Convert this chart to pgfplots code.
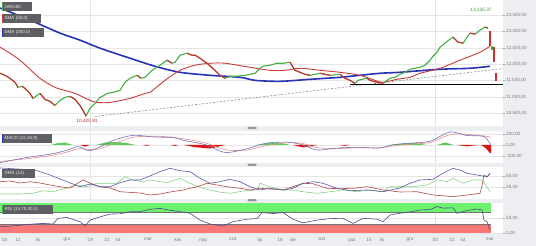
\documentclass[border=0pt]{standalone}
\usepackage{pgfplots}
\pgfplotsset{compat=1.18}
\usepackage{fontspec}
\setmainfont{Liberation Sans}
\definecolor{bgc}{HTML}{ECEEF1}
\definecolor{pgreen}{HTML}{45AE45}
\definecolor{pred}{HTML}{CC3030}
\definecolor{sma50}{HTML}{C83C3C}
\definecolor{sma200}{HTML}{2832B4}
\definecolor{macdc}{HTML}{7474B8}
\definecolor{sigc}{HTML}{E8908A}
\definecolor{hgreen}{HTML}{55D055}
\definecolor{hred}{HTML}{DD1515}
\definecolor{dmsblue}{HTML}{5A5AA8}
\definecolor{dmsgreen}{HTML}{86D486}
\definecolor{dmsred}{HTML}{B04848}
\definecolor{rsiline}{HTML}{4B4B8F}
\definecolor{rsigreen}{HTML}{6CF26C}
\definecolor{rsired}{HTML}{F87878}
\definecolor{boxc}{HTML}{5E5F62}
\definecolor{lblc}{HTML}{7A7A7A}
\pgfplotsset{panel/.style={
  scale only axis, width=503bp, xmin=0, xmax=503, anchor=north west,
  axis line style={draw=none},
  axis background/.style={fill=white},
  xtick={90,435}, xticklabels={,}, xmajorgrids, ymajorgrids,
  major grid style={draw=black!10, line width=0.4bp},
  xtick pos=bottom, ytick pos=right, yticklabel pos=right,
  tick align=outside, major tick length=2bp,
  ytick style={draw=black!35, line width=0.4bp},
  xtick style={draw=none},
  yticklabel style={font=\fontsize{4.6}{5}\selectfont, text=lblc, inner sep=1bp},
  unbounded coords=jump,
}}
\tikzset{lbox/.style={fill=boxc, text=white!92!black, font=\fontsize{4.5}{5}\selectfont, anchor=north west, inner xsep=2.5bp, inner ysep=0bp, minimum height=9bp, align=left}}
\begin{document}
\begin{tikzpicture}
\useasboundingbox (0,0) rectangle (536bp,-246bp);
\fill[bgc] (0,0) rectangle (536bp,-246bp);
% ---------------- main panel
\begin{axis}[panel, at={(0bp,0bp)}, height=125.5bp, ymin=10133, ymax=13959,
  ytick={10500,11000,11500,12000,12500,13000,13500},
  yticklabels={{10.500,00},{11.000,00},{11.500,00},{12.000,00},{12.500,00},{13.000,00},{13.500,00}}]
\addplot[black!45, dashed, dash pattern=on 2bp off 1.6bp, line width=0.6bp] coordinates {(95,10409) (503,11871)};
\addplot[black, line width=0.8bp] coordinates {(350,11385) (503,11385)};
\addplot[sma200, line width=1.6bp, smooth] coordinates {
(0,13714)(30,13347)(60,12949)(80,12735)(100,12490)(130,12184)(155,11939)(180,11755)(210,11663)(240,11602)(255,11510)(280,11480)(310,11541)(340,11602)(360,11663)(380,11725)(400,11755)(440,11847)(470,11878)(490,11939)};
\addplot[sma50, line width=0.9bp, smooth] coordinates {
(0,12520)(10,12337)(20,12123)(30,11847)(40,11572)(55,11296)(75,11112)(90,10898)(97,10837)(110,10837)(130,10959)(145,11112)(150,11143)(160,11388)(165,11510)(180,11816)(195,11970)(210,12031)(225,12031)(250,11908)(270,11816)(285,11816)(300,11878)(320,11816)(340,11755)(360,11663)(375,11510)(383,11449)(397,11541)(410,11602)(420,11725)(440,11878)(460,12123)(480,12367)(490,12551)};
\addplot[pgreen, line width=1.1bp] coordinates {
(0,11725)(5,11663)(10,11572)(15,11449)(18,11296)(22,11327)(25,11265)(30,11112)(33,10959)(37,11051)(40,11112)(45,10929)(50,10868)(55,10745)(60,10898)(65,10990)(70,11021)(75,10929)(80,10745)(83,10592)(86,10421)(90,10653)(95,10806)(100,10990)(104,11051)(107,11112)(113,11143)(120,11204)(125,11449)(130,11572)(137,11663)(141,11572)(145,11602)(150,11755)(155,11878)(160,11970)(167,12123)(172,12031)(175,12061)(180,12276)(187,12337)(192,12276)(195,12276)(200,12184)(207,12031)(215,11816)(220,11663)(225,11572)(230,11633)(235,11633)(245,11663)(255,11725)(260,11878)(263,11939)(270,11970)(277,12031)(283,12031)(290,12061)(295,11816)(300,11755)(305,11694)(310,11663)(320,11725)(330,11663)(340,11694)(345,11572)(350,11510)(355,11419)(358,11510)(362,11541)(367,11572)(370,11510)(377,11449)(383,11419)(390,11572)(395,11602)(400,11694)(405,11755)(410,11847)(415,11878)(420,11908)(425,11970)(430,12123)(433,12245)(437,12367)(440,12520)(445,12643)(450,12765)(453,12827)(456,12735)(458,12674)(463,12643)(467,12827)(470,12949)(475,12918)(480,13041)(485,13135)(488,13102)};
\addplot[pred, line width=1.1bp] coordinates {
(0,11725)(5,11663)(10,11572)(15,11449)(18,11296)(19,nan)
(22,11327)(25,11265)(30,11112)(33,10959)(34,nan)
(40,11112)(45,10929)(50,10868)(55,10745)(56,nan)
(70,11021)(75,10929)(80,10745)(83,10592)(86,10421)(87,nan)
(137,11663)(141,11572)(142,nan)
(167,12123)(172,12031)(173,nan)
(187,12337)(192,12276)(195,12276)(200,12184)(207,12031)(215,11816)(220,11663)(225,11572)(226,nan)
(290,12061)(295,11816)(300,11755)(305,11694)(310,11663)(311,nan)
(320,11725)(330,11663)(331,nan)
(340,11694)(345,11572)(350,11510)(355,11419)(356,nan)
(367,11572)(370,11510)(377,11449)(383,11419)(384,nan)
(453,12827)(456,12735)(458,12674)(463,12643)(464,nan)
(470,12949)(475,12918)(476,nan)
(485,13135)(488,13102)};
\addplot[pred, line width=1.8bp] coordinates {(490,13000)(490,12560)};
\addplot[pgreen, line width=1.8bp] coordinates {(492,12420)(492,12560)};
\addplot[pred, line width=1.8bp] coordinates {(494,12520)(494,12080)};
\addplot[pred, line width=1.8bp] coordinates {(496,11720)(496,11480)};
\node[font=\fontsize{4.8}{5}\selectfont, text=pgreen!85!black] at (axis cs:481,13660) {13,135.37};
\node[font=\fontsize{4.8}{5}\selectfont, text=sma50!85!black] at (axis cs:87,10255) {10,420.91};
\end{axis}
% ---------------- MACD
\begin{axis}[panel, at={(0bp,-130.5bp)}, height=32.6bp, ymin=-330, ymax=264,
  ytick={-200,0,200}, yticklabels={{-200,00},{0,00},{200,00}}]
\addplot[fill=hgreen, draw=none] coordinates {(51,0)(58,35)(65,45)(73,0)};
\addplot[fill=hred, draw=none] coordinates {(80,0)(85,-30)(90,0)};
\addplot[fill=hgreen, draw=none] coordinates {(96,0)(105,45)(115,55)(125,40)(136,0)};
\addplot[fill=hred, draw=none] coordinates {(143,0)(147,-15)(150,0)};
\addplot[fill=hred, draw=none] coordinates {(171,0)(175,-20)(178,0)};
\addplot[fill=hred, draw=none] coordinates {(184,0)(195,-40)(210,-65)(225,0)};
\addplot[fill=hgreen, draw=none] coordinates {(256,0)(270,40)(280,45)(290,0)};
\addplot[fill=hred, draw=none] coordinates {(293,0)(303,-45)(317,0)};
\addplot[fill=hred, draw=none] coordinates {(340,0)(345,-15)(350,0)};
\addplot[fill=hgreen, draw=none] coordinates {(389,0)(405,30)(415,35)(427,0)};
\addplot[fill=hgreen, draw=none] coordinates {(437,0)(445,45)(454,0)};
\addplot[fill=hred, draw=none] coordinates {(457,0)(467,-25)(478,0)};
\addplot[fill=hred, draw=none] coordinates {(481,0)(486,-60)(490,-150)(491,-150)(491,0)};
\addplot[sigc, line width=0.6bp, smooth] coordinates {
(0,-300)(27,-250)(51,-190)(68,-125)(78,-70)(89,-80)(99,-75)(113,20)(133,140)(154,160)(174,140)(184,110)(205,40)(225,-85)(246,-95)(266,-10)(287,40)(302,30)(317,-50)(338,-65)(358,-50)(379,-50)(394,-15)(410,15)(430,45)(450,190)(466,195)(481,170)(486,160)(491,140)};
\addplot[macdc, line width=0.6bp, smooth] coordinates {
(0,-322)(27,-227)(51,-164)(68,-91)(78,-29)(89,-104)(99,-42)(113,82)(133,175)(154,146)(174,133)(184,82)(205,7)(225,-135)(246,-73)(266,33)(287,51)(302,7)(317,-91)(338,-55)(358,-42)(379,-55)(394,7)(410,33)(430,69)(450,237)(466,175)(481,164)(486,127)(491,0)};
\end{axis}
% ---------------- DMS
\begin{axis}[panel, at={(0bp,-167bp)}, height=31.5bp, ymin=1.9, ymax=69.2,
  ytick={25,50}, yticklabels={{25,00},{50,00}}]
\addplot[dmsgreen, line width=0.6bp] coordinates {
(0,11.5)(20,11.5)(33,13)(43,18.6)(53,16.4)(67,24.4)(77,30.8)(87,27.1)(97,34.4)(107,34.4)(117,34.4)(125,48.5)(133,41.5)(143,37.8)(150,41.5)(167,35.7)(180,45.1)(190,34.4)(203,23.7)(217,16.4)(230,13)(243,17.9)(257,20.1)(260,34.4)(270,27.1)(283,20.1)(293,20.1)(303,16.4)(317,13)(330,16.4)(343,20.1)(357,16.4)(370,20.1)(383,16.4)(390,27.1)(400,27.1)(413,27.1)(427,30.8)(437,41.5)(447,37.8)(453,45.1)(463,34.4)(473,41.5)(482,41.5)(487,27.1)(490,16.4)};
\addplot[dmsred, line width=0.6bp] coordinates {
(0,37.8)(10,39.3)(20,35)(30,37.8)(40,35)(50,30.8)(60,27.1)(70,24.4)(83,41.5)(90,35)(100,27.1)(110,24.4)(120,16.4)(140,13.7)(150,9.4)(160,11.5)(170,15.8)(183,20.1)(197,27.1)(207,34.4)(217,30.8)(227,27.1)(240,23.7)(250,20.1)(260,23.7)(283,20.1)(293,27.1)(303,34.4)(313,33.5)(327,23.7)(340,22.9)(353,23.7)(367,27.1)(383,20.1)(400,15.8)(417,16.4)(433,9.4)(453,5.8)(467,9.4)(480,13)(482,28.6)(484,52.1)(487,48.5)(490,54.3)};
\addplot[dmsblue, line width=0.6bp] coordinates {
(0,67.1)(35,62.8)(50,52.1)(67,37.8)(80,27.1)(90,32.9)(100,27.1)(110,27.1)(120,35.7)(130,41.5)(140,41.5)(150,50)(160,59.2)(170,66.5)(180,61.3)(190,59.2)(200,45.1)(210,34.4)(220,37.8)(230,42.9)(240,37.8)(250,27.1)(260,20.1)(270,23.7)(283,20.1)(293,23.7)(303,34.4)(313,37.8)(323,34.4)(337,23.7)(350,18.6)(367,20.1)(383,16.4)(400,24.4)(410,34.4)(420,41.5)(433,42.9)(443,55.8)(453,66.5)(460,62.8)(467,55.8)(477,52.1)(483,50)(487,47.9)(490,55.8)};
\end{axis}
% ---------------- RSI
\begin{axis}[panel, at={(0bp,-202.5bp)}, height=31.5bp, ymin=-3.3, ymax=101.7,
  ytick={0,50}, yticklabels={{0,00},{50,00}},
  extra x ticks={4,18,38,67,90,107,118,148,178,203,233,260,280,293,322,352,369,382,410,435,452,463,490},
  extra x tick labels={’18,11,lis,gru,’19,21,lut,mar,kwi,maj,cze,lip,18,sie,wrz,paź,15,lis,gru,’20,22,lut,mar},
  extra x tick style={grid=none, major tick length=1.5bp, tick style={draw=black!35, line width=0.4bp},
    xticklabel style={font=\fontsize{4.6}{5}\selectfont, text=lblc, inner sep=1bp, yshift=-1.5bp}}]
\addplot[fill=rsigreen, draw=none] coordinates {(0,70)(491,70)(491,100)(0,100)};
\addplot[fill=rsired, draw=none] coordinates {(0,0)(491,0)(491,30)(0,30)};
\addplot[black!55, line width=0.5bp] coordinates {(0,70)(491,70)};
\addplot[black!55, line width=0.5bp] coordinates {(0,30)(491,30)};
\addplot[rsiline, line width=0.6bp] coordinates {
(0,21)(10,23)(20,26)(33,30)(43,32)(53,30)(58,49)(67,52)(73,45)(80,38)(85,23)(90,43)(100,54)(110,63)(120,64)(130,71)(140,71)(150,79)(160,82)(170,76)(180,71)(190,66)(200,43)(210,30)(223,23)(233,38)(247,46)(257,48)(262,68)(273,65)(283,68)(293,46)(303,34)(317,43)(330,48)(343,49)(353,32)(363,49)(377,46)(383,38)(390,60)(400,66)(410,70)(420,77)(430,78)(437,88)(443,83)(453,84)(457,66)(467,75)(477,80)(482,77)(484,43)(487,38)(490,10)};
\end{axis}
% ---------------- separator handles
\foreach \yy in {128,164.8,200.3}{\fill[black!40, rounded corners=0.8bp] (247.5bp,-\yy bp+1.1bp) rectangle (256.5bp,-\yy bp-1.1bp);}
% ---------------- panel labels
\node[lbox, text width=25bp] at (2bp,-2bp) {sWIG80};
\fill[pgreen] (2bp,-2bp) rectangle (3.2bp,-11bp);
\node[lbox, text width=34bp] at (2bp,-14bp) {SMA (50,0)};
\fill[sma50] (2bp,-14bp) rectangle (3.2bp,-23bp);
\node[lbox, text width=37bp] at (2bp,-28bp) {SMA (200,0)};
\fill[sma200] (2bp,-28bp) rectangle (3.2bp,-37bp);
\node[lbox, text width=45bp] at (2bp,-133.5bp) {MACD (12,26,9)};
\fill[sma200] (2bp,-133.5bp) rectangle (3.2bp,-142.5bp);
\node[lbox, text width=28bp] at (2bp,-169bp) {DMS (14)};
\node[lbox, text width=46bp] at (2bp,-205bp) {RSI (14,70,30,1)};
\fill[pgreen] (2bp,-205bp) rectangle (3.2bp,-214bp);
\end{tikzpicture}
\end{document}
